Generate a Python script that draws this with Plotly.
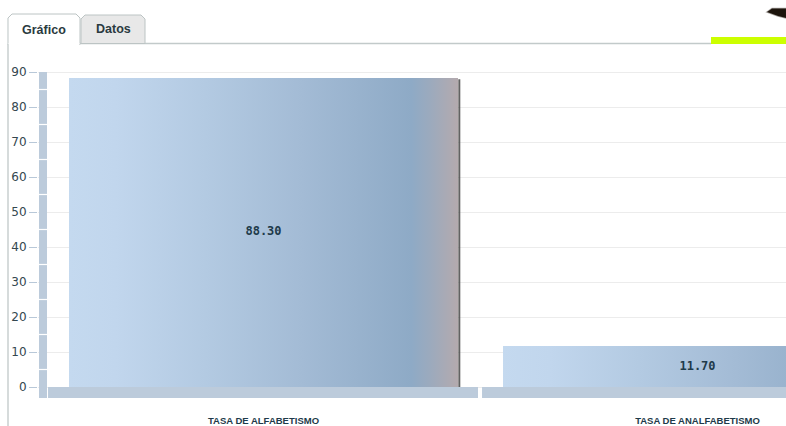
import plotly.graph_objects as go

# ---- data ----
categories = ["TASA DE ALFABETISMO", "TASA DE ANALFABETISMO"]
values = [88.30, 11.70]
y_ticks = [0, 10, 20, 30, 40, 50, 60, 70, 80, 90]
tab_labels = ["Gráfico", "Datos"]

# ---- geometry helpers (page pixels -> paper) ----
W_PAGE, H_PAGE = 786, 426
L, R, T, B = 38, 786, 70, 398
PW, PH = R - L, B - T


def px(x):
    return (x - L) / PW


def py(y):
    return (B - y) / PH


bar_w = 0.8963
x_range = [-0.5196, 1.2039]
y_range = [-3.143, 90.571]

grad = [
    [0.0, "#c4d9ef"],
    [0.12, "#c1d6ed"],
    [0.35, "#b3cae2"],
    [0.6, "#a3bbd5"],
    [0.88, "#8eaac6"],
    [0.93, "#9caabd"],
    [1.0, "#b4aaae"],
]

fig = go.Figure()

for i, (cat, v) in enumerate(zip(categories, values)):
    x0, x1 = i - bar_w / 2, i + bar_w / 2
    fig.add_trace(go.Scatter(
        x=[x0, x1, x1, x0, x0], y=[0, 0, v, v, 0],
        mode="lines", fill="toself",
        fillgradient=dict(type="horizontal", colorscale=grad, start=x0, stop=x1),
        line=dict(width=0), hoverinfo="skip", showlegend=False,
    ))
    # right-edge shadow
    fig.add_trace(go.Scatter(
        x=[x1 + 0.003, x1 + 0.003], y=[0, v - 0.4],
        mode="lines", line=dict(color="rgba(70,70,70,0.85)", width=2),
        hoverinfo="skip", showlegend=False,
    ))
    fig.add_trace(go.Scatter(
        x=[i], y=[v / 2], mode="text", text=[f"{v:.2f}"],
        textfont=dict(family="DejaVu Sans Mono", size=12, color="#1e3a4a", weight="bold"),
        hoverinfo="skip", showlegend=False,
    ))

shapes = []
# left axis column (segmented)
shapes.append(dict(type="rect", xref="x domain", yref="y", x0=1 / PW, x1=9 / PW,
                   y0=y_range[0], y1=90, fillcolor="#bccbdb", line=dict(width=0), layer="above"))
for t in y_ticks:
    if t < 90:
        shapes.append(dict(type="line", xref="x domain", yref="y", x0=1 / PW, x1=9 / PW,
                           y0=t + 5, y1=t + 5, line=dict(color="white", width=1.2), layer="above"))
# floor under each category
for i, _ in enumerate(categories):
    shapes.append(dict(type="rect", xref="x", yref="y", x0=i - 0.4965, x1=i + 0.4942,
                       y0=y_range[0], y1=0, fillcolor="#bccbdb", line=dict(width=0), layer="above"))

# page decorations
shapes.append(dict(type="line", xref="paper", yref="paper", x0=px(8), x1=px(8), y0=py(44), y1=py(426),
                   line=dict(color="#c0c8c8", width=1.3)))
shapes.append(dict(type="line", xref="paper", yref="paper", x0=px(80), x1=px(711), y0=py(43.5), y1=py(43.5),
                   line=dict(color="#c2caca", width=1.6)))
shapes.append(dict(type="rect", xref="paper", yref="paper", x0=px(711), x1=px(786), y0=py(44), y1=py(37),
                   fillcolor="#ccff00", line=dict(width=0)))


def tab_path(xa, xb, ytop, ybot, r=4):
    pts = [(xa, ybot), (xa, ytop + r), (xa + r, ytop), (xb - r, ytop), (xb, ytop + r), (xb, ybot)]
    return "M " + " L ".join(f"{px(a):.5f},{py(b):.5f}" for a, b in pts)


shapes.append(dict(type="path", xref="paper", yref="paper", path=tab_path(81, 145, 15, 43.5) + " Z",
                   fillcolor="#e8e8e8", line=dict(color="#bcc4c4", width=1)))
shapes.append(dict(type="path", xref="paper", yref="paper", path=tab_path(8, 80, 14, 44.5) + " Z",
                   fillcolor="white", line=dict(color="#bcc4c4", width=1)))
shapes.append(dict(type="line", xref="paper", yref="paper", x0=px(8.6), x1=px(79.4), y0=py(44), y1=py(44),
                   line=dict(color="white", width=2)))
# dark blob at top right
blob = [(767, 12), (772, 8.5), (786, 8.5), (786, 18), (778, 16)]
shapes.append(dict(type="path", xref="paper", yref="paper",
                   path="M " + " L ".join(f"{px(a):.5f},{py(b):.5f}" for a, b in blob) + " Z",
                   fillcolor="#1c140c", line=dict(color="rgba(40,30,20,0.4)", width=1.5)))

annotations = [
    dict(xref="paper", yref="paper", x=px(44), y=py(30), text=tab_labels[0], showarrow=False,
         xanchor="center", yanchor="middle",
         font=dict(family="Liberation Sans", size=12.5, color="#2a3a40", weight="bold")),
    dict(xref="paper", yref="paper", x=px(113), y=py(29), text=tab_labels[1], showarrow=False,
         xanchor="center", yanchor="middle",
         font=dict(family="Liberation Sans", size=12.5, color="#2a3a40", weight="bold")),
]

fig.update_layout(
    width=W_PAGE, height=H_PAGE,
    margin=dict(l=L, r=W_PAGE - R, t=T, b=H_PAGE - B, pad=0, autoexpand=False),
    paper_bgcolor="white", plot_bgcolor="white",
    shapes=shapes, annotations=annotations, showlegend=False,
    xaxis=dict(range=x_range, tickvals=list(range(len(categories))), ticktext=categories,
               showgrid=False, zeroline=False, showline=False, ticks="",
               ticklabelstandoff=15, automargin=False,
               tickfont=dict(family="Liberation Sans", size=9.5, color="#1e3a4a", weight="bold")),
    yaxis=dict(range=y_range, tickvals=y_ticks, ticks="outside", ticklen=8, tickcolor="#b8c8d8",
               showgrid=True, gridcolor="#ececec", gridwidth=1, zeroline=False, showline=False,
               ticklabelstandoff=0, automargin=False,
               tickfont=dict(family="DejaVu Sans", size=12, color="#34474f")),
)

fig.write_html("out.html", config={"displayModeBar": False},
               post_script="document.body.style.margin='0';document.body.style.overflow='hidden';")
